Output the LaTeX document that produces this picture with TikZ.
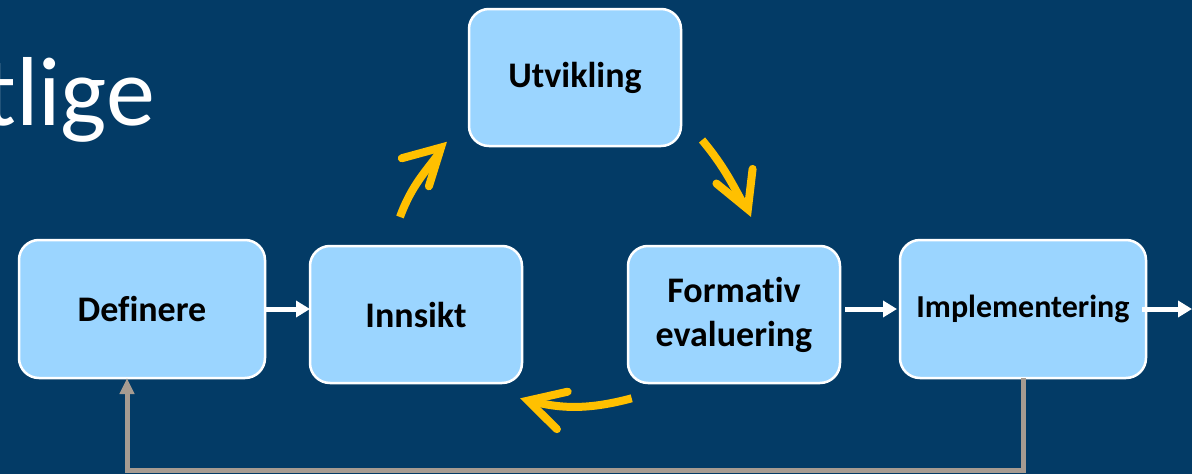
\documentclass[tikz,border=0pt]{standalone}
\usepackage{fontspec}
\setmainfont{Carlito}[Ligatures=NoCommon]
\usepackage{tikz}
\usetikzlibrary{arrows.meta, positioning, calc}

\definecolor{slideblue}{RGB}{3,59,102}
\definecolor{phasefill}{RGB}{155,213,255}
\definecolor{cyclegold}{RGB}{255,192,0}
\definecolor{loopgray}{RGB}{166,155,145}

\begin{document}
\begin{tikzpicture}[node distance=45pt,
    phase/.style={draw=white, line width=2.5pt, fill=phasefill, rounded corners=20pt,
        minimum width=212pt, minimum height=137pt, align=center, inner sep=4pt, outer sep=0pt,
        font=\fontsize{36}{44}\selectfont\bfseries},
    wide/.style={minimum width=246pt, minimum height=138pt},
    flow/.style={white, line width=5pt, -{Triangle[length=14pt, width=16pt]}},
    cycleshaft/.style={cyclegold, line width=8pt, shorten >=14pt},
    cyclehead/.pic={\draw[cyclegold, line width=8pt, line cap=round, line join=miter]
        (-44pt,19.5pt) -- (-8.4pt,0) -- (-44pt,-19.5pt);},
    feedback/.style={loopgray, line width=5pt, -{Triangle[length=16pt, width=14pt]}}]

    \fill[slideblue] (0,0) rectangle (1192pt,-474pt);
    \useasboundingbox (0,0) rectangle (1192pt,-474pt);
    \clip (0,0) rectangle (1192pt,-474pt);

    \node[anchor=base west, inner sep=0pt, text=white, font=\fontsize{98}{110}\selectfont] (heading) at (-17pt,-125pt) {tlige};

    \node[phase, wide] (Definere) at (142pt,-309pt) {Definere};
    \node[phase, right=45pt of Definere, yshift=-5.5pt] (Innsikt) {Innsikt};
    \node[phase, right=106pt of Innsikt] (Formativ) {Formativ\\evaluering};
    \node[phase, wide, right=60pt of Formativ, yshift=5.5pt, font=\fontsize{32}{40}\selectfont\bfseries] (Implementering) {Implementering};
    \coordinate (top) at ($(Innsikt.north)!0.5!(Formativ.north)$);
    \node[phase, above=100pt of top] (Utvikling) {Utvikling};

    \draw[flow] (Definere.east) -- (Definere.east -| Innsikt.west);
    \draw[flow, shorten <=5pt, shorten >=3pt] (Formativ.east |- Implementering.west) -- (Implementering.west);
    \coordinate (exit) at (1192pt,-309pt);
    \draw[flow, shorten <=-4pt] (Implementering.east) -- (exit);

    \coordinate (fromInn) at ($(Innsikt.north)+(-16pt,29pt)$);
    \coordinate (toUtv) at ($(Utvikling.south west)+(-22pt,4.3pt)$);
    \coordinate (fromUtv) at ($(Utvikling.south east)+(21pt,6pt)$);
    \coordinate (toForm) at ($(Formativ.north)+(17pt,29pt)$);
    \coordinate (fromForm) at ($(Formativ.south west)+(3.7pt,-15.3pt)$);
    \coordinate (toInn) at ($(Innsikt.south east)+(-2pt,-15.3pt)$);

    \draw[cycleshaft] (fromInn) to[out=70, in=235] (toUtv);
    \pic[rotate=44] at (toUtv) {cyclehead};
    \draw[cycleshaft] (fromUtv) to[out=-50, in=120] (toForm);
    \pic[rotate=-68] at (toForm) {cyclehead};
    \draw[cycleshaft] (fromForm) to[out=195, in=-14] (toInn);
    \pic[rotate=164] at (toInn) {cyclehead};

    \coordinate (back) at ($(Definere.south)+(-15pt,0)$);
    \draw[feedback] (Implementering.south) -- ++(0,-92pt) -| (back);
\end{tikzpicture}
\end{document}
